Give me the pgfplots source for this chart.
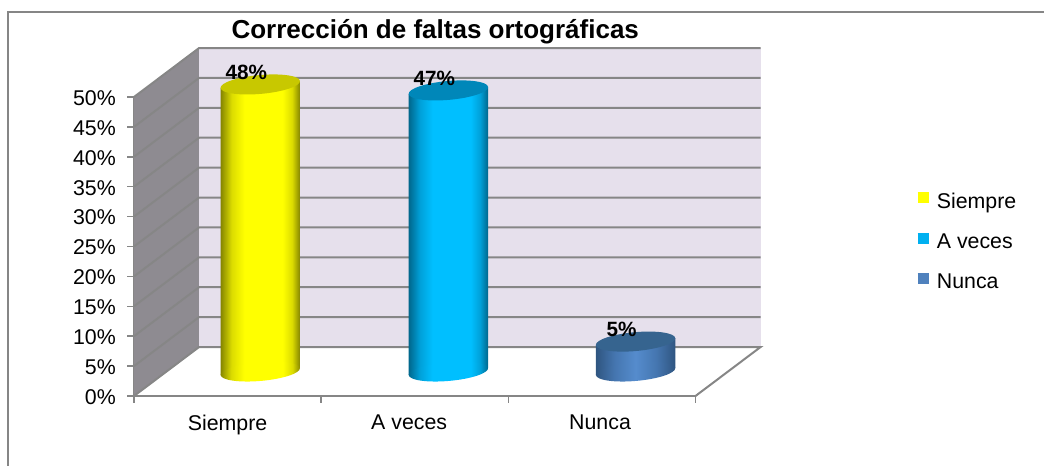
\documentclass[border=0pt]{standalone}
\usepackage{pgfplots}
\pgfplotsset{compat=1.18}
\usepackage{fontspec}
\setmainfont{Liberation Sans}

% 1 reference pixel = 0.75pt
\def\px{0.75pt}
\definecolor{framegray}{HTML}{868686}
\definecolor{wallgray}{HTML}{8E8B91}
\definecolor{backwall}{HTML}{E6E0EC}
\definecolor{legY}{HTML}{FFFF00}
\definecolor{legB}{HTML}{00B0F0}
\definecolor{legN}{HTML}{4F81BD}
\definecolor{topY}{HTML}{C8C800}
\definecolor{topB}{HTML}{0087B9}
\definecolor{topN}{HTML}{36648F}
\definecolor{darkY}{HTML}{858500}
\definecolor{midY}{HTML}{DCDC00}
\definecolor{darkB}{HTML}{00678C}
\definecolor{midB}{HTML}{00A0D8}
\definecolor{brightB}{HTML}{00BFFF}
\definecolor{darkN}{HTML}{2F5580}
\definecolor{midN}{HTML}{4576B0}
\definecolor{brightN}{HTML}{558CCD}

% the path's box takes the middle 25bp to 75bp of a shading
\pgfdeclarehorizontalshading{cylY}{100bp}{
  color(0bp)=(darkY); color(25bp)=(darkY); color(32bp)=(midY); color(40bp)=(yellow);
  color(64bp)=(yellow); color(70bp)=(midY); color(75bp)=(darkY); color(100bp)=(darkY)}
\pgfdeclarehorizontalshading{cylB}{100bp}{
  color(0bp)=(darkB); color(25bp)=(darkB); color(32bp)=(midB); color(40bp)=(brightB);
  color(64bp)=(brightB); color(70bp)=(midB); color(75bp)=(darkB); color(100bp)=(darkB)}
\pgfdeclarehorizontalshading{cylN}{100bp}{
  color(0bp)=(darkN); color(25bp)=(darkN); color(37bp)=(midN); color(50bp)=(brightN);
  color(63bp)=(midN); color(75bp)=(darkN); color(100bp)=(darkN)}

% tilted end caps of the cylinders
\def\capshape{[x={(39.7*\px,3.5*\px)},y={(-0.8*\px,9.4*\px)}] (0,0) circle (1)}
\pgfdeclareplotmark{capbotY}{\path[draw=none,shading=cylY] \capshape;}
\pgfdeclareplotmark{capbotB}{\path[draw=none,shading=cylB] \capshape;}
\pgfdeclareplotmark{capbotN}{\path[draw=none,shading=cylN] \capshape;}
\pgfdeclareplotmark{captopY}{\path[draw=none,fill=topY] \capshape;}
\pgfdeclareplotmark{captopB}{\path[draw=none,fill=topB] \capshape;}
\pgfdeclareplotmark{captopN}{\path[draw=none,fill=topN] \capshape;}

\pgfplotsset{cylside/.style={forget plot,shade,shading=#1,draw opacity=0}}

\begin{document}
\begin{tikzpicture}[x=0.75pt,y=0.75pt]
\useasboundingbox (0,0) rectangle (1044,466);
\draw[framegray,line width=2*\px] (8,0) -- (8,454) -- (1044,454);
\begin{axis}[
  at={(134*\px,70*\px)}, anchor=south west, scale only axis,
  width=561.5*\px, height=299*\px,
  xmin=0, xmax=3, ymin=0, ymax=50,
  clip=false,
  axis x line=bottom, axis y line=left,
  axis line style={framegray,line width=1.5*\px,-},
  xtick={0.5,1.47,2.49}, xticklabels={Siempre,A veces,Nunca},
  minor xtick={0,1,2,3},
  ytick={0,5,...,50},
  yticklabels={0\%,5\%,10\%,15\%,20\%,25\%,30\%,35\%,40\%,45\%,50\%},
  tick align=outside,
  tick style={framegray,line width=1.5*\px},
  major tick length=7*\px, minor tick length=7*\px,
  major x tick style={draw=none},
  xticklabel style={yshift=-7*\px},
  yticklabel style={xshift=-6.5*\px,yshift=-1*\px},
  tick label style={font=\fontsize{16}{18}\selectfont},
  unbounded coords=jump,
  title={\textbf{Corrección de faltas ortográficas}},
  title style={at={(0.5365,1.19)},anchor=center,font=\fontsize{19.5}{22}\selectfont},
]
% side wall and back wall
\addplot[fill=wallgray,draw=none] coordinates {(0,0) (0.3476,8.19) (0.3476,58.19) (0,50)} -- cycle;
\addplot[fill=backwall,draw=none] coordinates {(0.3476,8.19) (3.3476,8.19) (3.3476,58.19) (0.3476,58.19)} -- cycle;
% gridlines, wall part then back part
\addplot[framegray,line width=2*\px] coordinates {
  (0,0) (0.3476,8.19) (3.3476,8.19) (3,0) (nan,nan)
  (0,5) (0.3476,13.19) (3.3476,13.19) (nan,nan)
  (0,10) (0.3476,18.19) (3.3476,18.19) (nan,nan)
  (0,15) (0.3476,23.19) (3.3476,23.19) (nan,nan)
  (0,20) (0.3476,28.19) (3.3476,28.19) (nan,nan)
  (0,25) (0.3476,33.19) (3.3476,33.19) (nan,nan)
  (0,30) (0.3476,38.19) (3.3476,38.19) (nan,nan)
  (0,35) (0.3476,43.19) (3.3476,43.19) (nan,nan)
  (0,40) (0.3476,48.19) (3.3476,48.19) (nan,nan)
  (0,45) (0.3476,53.19) (3.3476,53.19) (nan,nan)
  (0,50) (0.3476,58.19) (3.3476,58.19)
};
\end{axis}
% bars stand half way into the floor, so a second axis shifted by half the depth
\begin{axis}[
  at={(166.7*\px,94.5*\px)}, anchor=south west, scale only axis,
  width=561.5*\px, height=299*\px,
  xmin=0, xmax=3, ymin=0, ymax=50,
  clip=false, hide axis,
  legend style={at={(1.3277,0.607)},anchor=north west,draw=none,fill=none,
    font=\fontsize{16}{18}\selectfont,
    row sep=18*\px,inner sep=0pt,outer sep=0pt,
    /tikz/every even column/.style={column sep=-1*\px}},
  legend cell align=left,
  legend image code/.code={\draw[#1,line width=11*\px] (0,0) -- (11*\px,0);},
]
% sides are slanted like the caps: 0.2121 half width, 0.585 tilt
\addplot[forget plot,only marks,mark=capbotY] coordinates {(0.5,0)};
\addplot[cylside=cylY] coordinates {(0.2879,-0.585) (0.7121,0.585) (0.7121,48.585) (0.2879,47.415)} -- cycle;
\addplot[forget plot,only marks,mark=captopY] coordinates {(0.5,48)};

\addplot[forget plot,only marks,mark=capbotB] coordinates {(1.505,0)};
\addplot[cylside=cylB] coordinates {(1.2929,-0.585) (1.7171,0.585) (1.7171,47.585) (1.2929,46.415)} -- cycle;
\addplot[forget plot,only marks,mark=captopB] coordinates {(1.505,47)};

\addplot[forget plot,only marks,mark=capbotN] coordinates {(2.505,0)};
\addplot[cylside=cylN] coordinates {(2.2929,-0.585) (2.7171,0.585) (2.7171,5.585) (2.2929,4.415)} -- cycle;
\addplot[forget plot,only marks,mark=captopN] coordinates {(2.505,5)};

% data labels
\addplot[forget plot,draw=none,
  nodes near coords,point meta=explicit symbolic,
  every node near coord/.append style={font=\fontsize{15.5}{18}\selectfont\bfseries,anchor=center,xshift=-14*\px,yshift=12*\px}]
  coordinates {(0.5,48)[48\%] (1.505,47)[47\%] (2.505,5)[5\%]};
\addlegendimage{draw=legY}
\addlegendimage{draw=legB}
\addlegendimage{draw=legN}
\legend{Siempre,A veces,Nunca}
\end{axis}
\end{tikzpicture}
\end{document}
